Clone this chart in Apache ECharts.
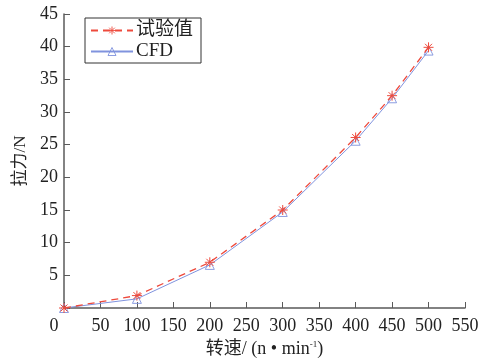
<!DOCTYPE html>
<html><head><meta charset="utf-8">
<script src="https://cdn.jsdelivr.net/npm/echarts@6/dist/echarts.min.js"></script>
<style>html,body{margin:0;padding:0;background:#fff}#c{width:484px;height:363px}</style>
</head><body><div id="c"></div>
<script>
var speeds = [0, 100, 200, 300, 400, 450, 500];
var testValues = [0, 1.9, 7.0, 15.0, 26.1, 32.5, 39.9];
var cfdValues = [0, 1.4, 6.6, 14.7, 25.6, 32.1, 39.4];
var seriesNames = ['试验值', 'CFD'];
var xTicks = [0, 50, 100, 150, 200, 250, 300, 350, 400, 450, 500, 550];
var yTicks = [5, 10, 15, 20, 25, 30, 35, 40, 45];

var serif = '"Liberation Serif","Times New Roman",serif';
var cjk = '"Liberation Serif","Noto Sans CJK SC",serif';
var red = '#ee4a3c', blue = '#8093de', axisCol = '#5a5a5a';
var star = 'path://M5,0L5,10M0,5L10,5M1.5,1.5L8.5,8.5M8.5,1.5L1.5,8.5';

function pairs(xs, ys){ return xs.map(function(x,i){ return [x, ys[i]]; }); }

var chart = echarts.init(document.getElementById('c'));
chart.setOption({
  animation: false,
  grid: {left: 64, top: 14, right: 19, bottom: 52},
  legend: {
    left: 85, top: 18, orient: 'vertical', itemWidth: 42, itemHeight: 10, itemGap: 2,
    padding: [3, 8, 2, 5], borderColor: '#333', borderWidth: 1,
    itemStyle: {borderWidth: 0.9},
    textStyle: {fontFamily: cjk, fontSize: 19, color: '#222', padding: [0,0,0,-2]},
    data: seriesNames
  },
  xAxis: {
    type: 'value', min: 0, max: 550, interval: 50,
    name: '{a|转速/ (n • min}{s|-1}{a|)}', nameLocation: 'middle', nameGap: 32,
    nameTextStyle: {rich: {a: {fontFamily: cjk, fontSize: 18, color: '#222'}, s: {fontFamily: serif, fontSize: 9, color: '#222', verticalAlign: 'top', padding: [0,0,8,0]}}},
    axisLine: {lineStyle: {color: axisCol, width: 1.5}},
    axisTick: {inside: true, length: 6, lineStyle: {color: axisCol}},
    axisLabel: {fontFamily: serif, fontSize: 18, color: '#222', margin: 9,
      formatter: function(v){ if (v === 0) return '{z|0}'; return xTicks.indexOf(v) >= 0 ? String(v) : ''; },
      rich: {z: {fontFamily: serif, fontSize: 18, color: '#222', padding: [0, 20, 0, 0]}}},
    splitLine: {show: false}
  },
  yAxis: {
    type: 'value', min: 0, max: 45, interval: 5,
    name: '拉力/N', nameLocation: 'middle', nameGap: 33,
    nameTextStyle: {fontFamily: cjk, fontSize: 17, color: '#222'},
    axisLine: {show: true, lineStyle: {color: axisCol, width: 1.5}},
    axisTick: {show: true, inside: true, length: 6, lineStyle: {color: axisCol}},
    axisLabel: {fontFamily: serif, fontSize: 18, color: '#222', margin: 6,
      formatter: function(v){ return yTicks.indexOf(v) >= 0 ? String(v) : ''; }},
    splitLine: {show: false}
  },
  series: [
    {name: seriesNames[0], type: 'line', data: pairs(speeds, testValues),
     symbol: star, symbolSize: 10, showAllSymbol: true,
     lineStyle: {color: red, width: 1.3, type: [7, 5]},
     itemStyle: {color: 'none', borderColor: red, borderWidth: 1}, z: 3},
    {name: seriesNames[1], type: 'line', data: pairs(speeds, cfdValues),
     symbol: 'triangle', symbolSize: 9, showAllSymbol: true,
     lineStyle: {color: blue, width: 1},
     itemStyle: {color: 'rgba(255,255,255,0)', borderColor: blue, borderWidth: 0.9}, z: 2}
  ]
});
</script></body></html>
